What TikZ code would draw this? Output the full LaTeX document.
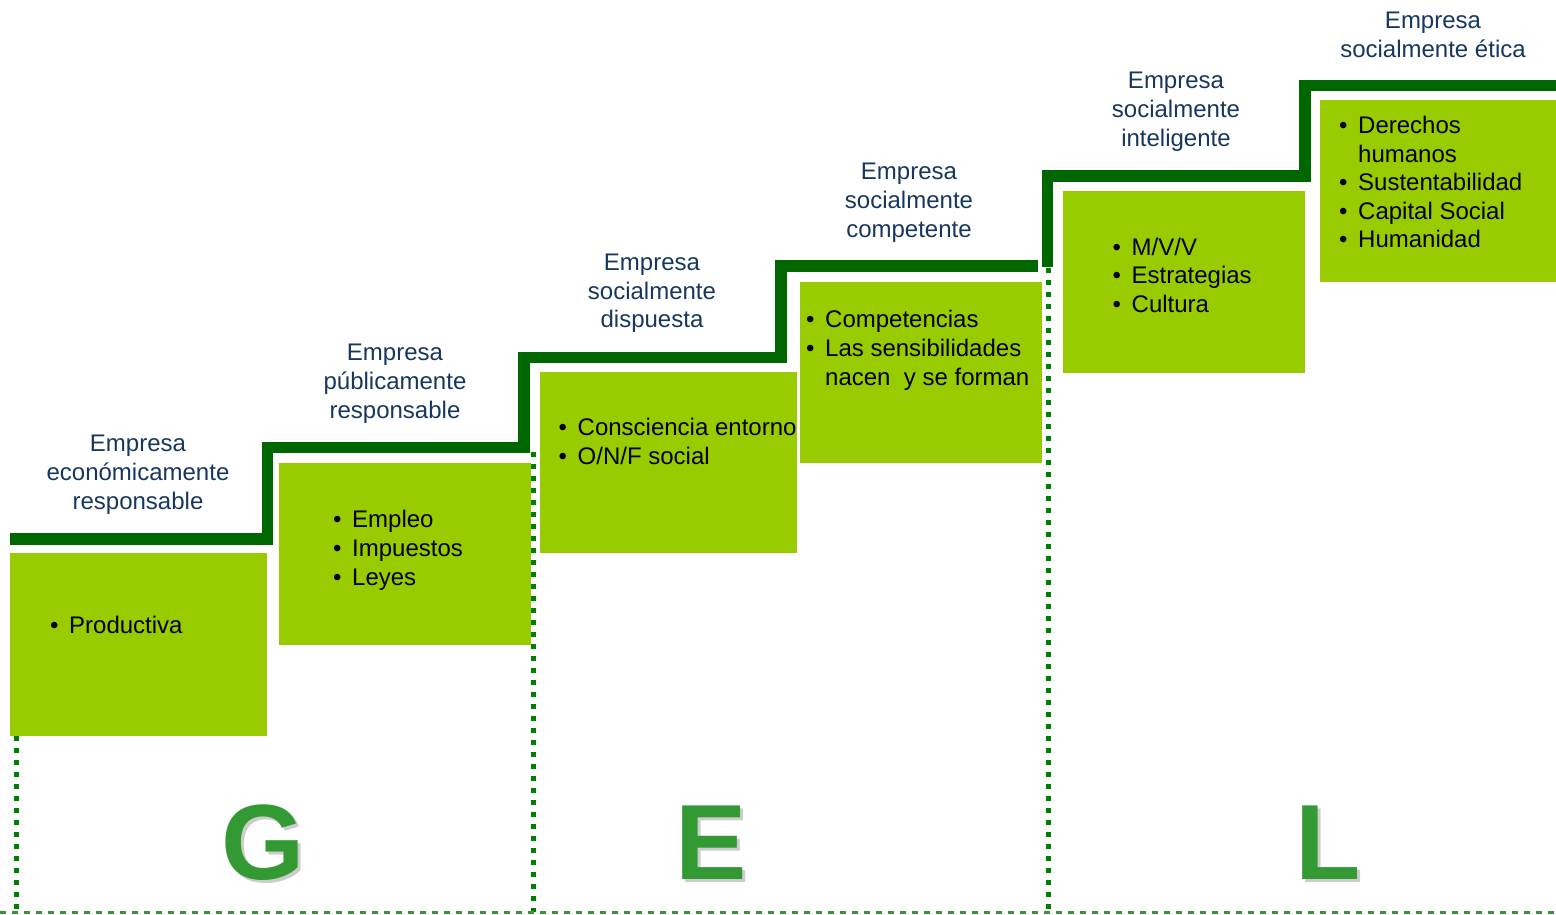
\documentclass[tikz,border=0pt]{standalone}
\usepackage{fontspec}
\setmainfont{Liberation Sans}
\definecolor{stepcol}{HTML}{006600}
\definecolor{boxcol}{HTML}{99CC00}
\definecolor{ttlcol}{HTML}{17375E}
\definecolor{dotcol}{HTML}{008000}
\definecolor{dashcol}{HTML}{339933}
\definecolor{bigcol}{HTML}{339933}
\newcommand\bul{\makebox[19pt][l]{•}}
\newcommand\shadowed[1]{\makebox[0pt][l]{\hspace{3.5pt}\raisebox{-3.5pt}{\textcolor{black!20}{#1}}}#1}
\tikzset{
  ttl/.style={font=\fontsize{24}{29}\selectfont, text=ttlcol, inner sep=0pt, anchor=base},
  itm/.style={font=\fontsize{24}{29}\selectfont, text=black, inner sep=0pt, anchor=base west},
  big/.style={font=\fontsize{107}{107}\selectfont\bfseries, text=bigcol, inner sep=0pt, anchor=base},
  stepline/.style={draw=stepcol, line width=11.7pt, line join=miter},
  vdots/.style={draw=dotcol, line width=5pt, dash pattern=on 5pt off 7pt},
  hdash/.style={draw=dashcol, line width=3pt, dash pattern=on 6pt off 6pt},
  greenbox/.style={fill=boxcol}
}
\begin{document}
\begin{tikzpicture}[x=1pt,y=-1pt]
\useasboundingbox (0,0) rectangle (1556,914);
% boxes
\fill[greenbox] (10,553) rectangle (267,736);
\fill[greenbox] (279,463) rectangle (531,645);
\fill[greenbox] (540,372) rectangle (797,553);
\fill[greenbox] (800,282) rectangle (1042,463);
\fill[greenbox] (1063,191) rectangle (1305,373);
\fill[greenbox] (1320,100) rectangle (1556,282);
% dotted verticals and bottom dashed line
\coordinate (d1t) at (16,736); \coordinate (d1b) at (16,912);
\coordinate (d2t) at (533,452); \coordinate (d2b) at (533,912);
\coordinate (d3t) at (1048,268); \coordinate (d3b) at (1048,912);
\coordinate (hl) at (0,912); \coordinate (hr) at (1556,912);
\draw[vdots] (d1t) -- (d1b);
\draw[vdots] (d2t) -- (d2b);
\draw[vdots] (d3t) -- (d3b);
\draw[hdash] (hl) -- (hr);
% step lines
\draw[stepline] (10,539) -- (267.5,539) -- (267.5,447.5) -- (524,447.5) -- (524,357.5) -- (781,357.5) -- (781,266) -- (1038,266);
\draw[stepline] (1047.5,266.7) -- (1047.5,176) -- (1305,176) -- (1305,85.5) -- (1556,85.5);
% titles
\node[ttl] (t1a) at (138,451) {Empresa};
\node[ttl] (t1b) at (138,480) {económicamente};
\node[ttl] (t1c) at (138,509) {responsable};
\node[ttl] (t2a) at (395,360) {Empresa};
\node[ttl] (t2b) at (395,389) {públicamente};
\node[ttl] (t2c) at (395,418) {responsable};
\node[ttl] (t3a) at (652,270) {Empresa};
\node[ttl] (t3b) at (652,299) {socialmente};
\node[ttl] (t3c) at (652,327) {dispuesta};
\node[ttl] (t4a) at (909,179) {Empresa};
\node[ttl] (t4b) at (909,208) {socialmente};
\node[ttl] (t4c) at (909,237) {competente};
\node[ttl] (t5a) at (1176,88) {Empresa};
\node[ttl] (t5b) at (1176,117) {socialmente};
\node[ttl] (t5c) at (1176,146) {inteligente};
\node[ttl] (t6a) at (1433,28) {Empresa};
\node[ttl] (t6b) at (1433,57) {socialmente ética};
% items
\node[itm] (i1a) at (50,633) {\bul Productiva};
\node[itm] (i2a) at (333,527) {\bul Empleo};
\node[itm] (i2b) at (333,556) {\bul Impuestos};
\node[itm] (i2c) at (333,585) {\bul Leyes};
\node[itm] (i3a) at (558.5,435) {\bul Consciencia entorno};
\node[itm] (i3b) at (558.5,464) {\bul O/N/F social};
\node[itm] (i4a) at (806,327) {\bul Competencias};
\node[itm] (i4b) at (806,356) {\bul Las sensibilidades};
\node[itm] (i4c) at (825,385) {nacen\ \ y se forman};
\node[itm] (i5a) at (1112.5,255) {\bul M/V/V};
\node[itm] (i5b) at (1112.5,283.5) {\bul Estrategias};
\node[itm] (i5c) at (1112.5,312) {\bul Cultura};
\node[itm] (i6a) at (1339,133.5) {\bul Derechos};
\node[itm] (i6b) at (1358,162) {humanos};
\node[itm] (i6c) at (1339,190.5) {\bul Sustentabilidad};
\node[itm] (i6d) at (1339,219) {\bul Capital Social};
\node[itm] (i6e) at (1339,247.5) {\bul Humanidad};
% big letters
\node[big] (g) at (263,879) {\shadowed{G}};
\node[big] (e) at (711,879) {\shadowed{E}};
\node[big] (l) at (1328,879) {\shadowed{L}};
\end{tikzpicture}
\end{document}
